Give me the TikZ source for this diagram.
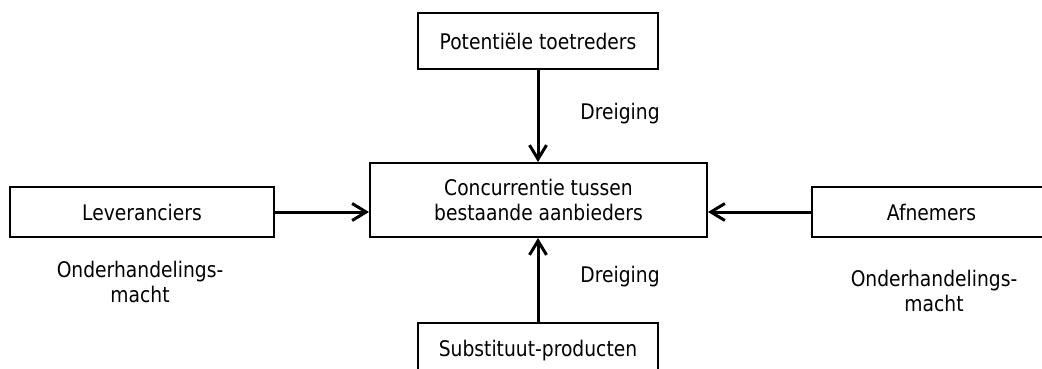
\documentclass[tikz,border=0pt]{standalone}
\usepackage{fontspec}
\setmainfont{DejaVu Sans}[FakeStretch=0.87]
\usepackage{tikz}
\usetikzlibrary{
  arrows.meta,
  positioning
}
\tikzset{
  blok/.style={
    rectangle, draw=black, fill=white,
    line width=2pt, inner sep=0pt,
    font=\fontsize{21.5}{25}\selectfont, align=center
  },
  pijl/.style={-{Straight Barb[length=14pt, width=17pt, line width=3pt]}, line width=3pt},
  tekst/.style={font=\fontsize{21.5}{25}\selectfont, align=center, inner sep=0pt},
}

\begin{document}
\begin{tikzpicture}[x=1pt, y=-1pt]
\useasboundingbox (0,0) rectangle (1042,369);
\clip (0,0) rectangle (1042,369);

% Centrale kracht
\node[blok, minimum width=337pt, minimum height=74pt] (concurrentie) at (538.5,200)
  {Concurrentie tussen\\bestaande aanbieders};

% Vier krachten rondom
\node[blok, minimum width=240pt, minimum height=56pt] (toetreders) at (538,41) {Potentiële toetreders};
\node[blok, minimum width=264pt, minimum height=50pt] (leveranciers) at (142,212) {Leveranciers};
\node[blok, minimum width=239pt, minimum height=50pt] (afnemers) at (931.5,212) {Afnemers};
\node[blok, minimum width=240pt, minimum height=56pt] (substituut) at (538,351) {Substituut-producten};

\draw[pijl] (toetreders.south) -- (toetreders.south |- concurrentie.north);
\draw[pijl] (substituut.north) -- (substituut.north |- concurrentie.south);
\draw[pijl] (leveranciers.east) -- (leveranciers.east -| concurrentie.west);
\draw[pijl] (afnemers.west) -- (afnemers.west -| concurrentie.east);

% Labels
\node[tekst, anchor=base] (dreigingboven) at (620,120) {Dreiging};
\node[tekst, anchor=base] (dreigingonder) at (620,282) {Dreiging};
\node[tekst, anchor=north] (machtlinks) at (140,261) {Onderhandelings-\\macht};
\node[tekst, anchor=north] (machtrechts) at (934,270) {Onderhandelings-\\macht};

\end{tikzpicture}
\end{document}
